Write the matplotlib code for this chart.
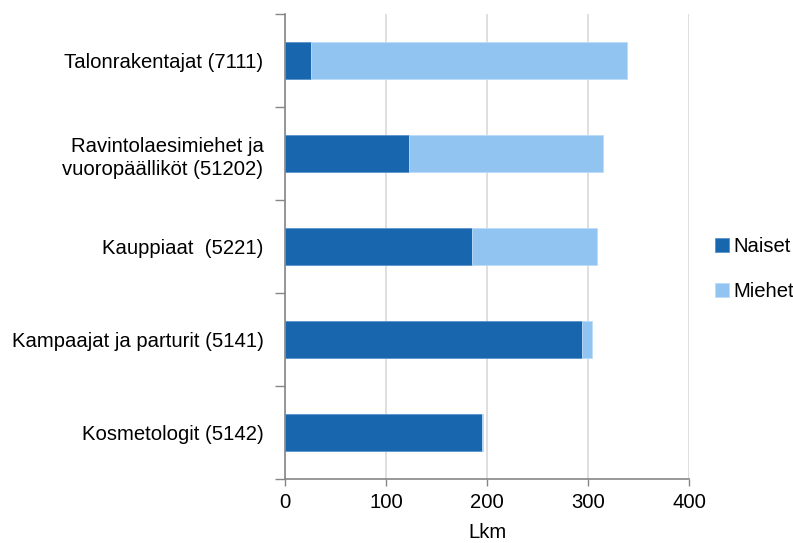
import matplotlib
matplotlib.use("Agg")
import matplotlib.pyplot as plt
import numpy as np

categories = ["Talonrakentajat (7111)", "Ravintolaesimiehet ja\nvuoropäälliköt (51202)",
              "Kauppiaat  (5221)", "Kampaajat ja parturit (5141)", "Kosmetologit (5142)"]
naiset = [26, 123, 185, 294, 195]
miehet = [313, 192, 124, 10, 1]
series_names = ["Naiset", "Miehet"]
xticks = [0, 100, 200, 300, 400]

FS = 14.6
plt.rcParams['font.family'] = ['Liberation Sans', 'DejaVu Sans']
fig = plt.figure(figsize=(7.93, 5.43), dpi=100)
ax = fig.add_axes([285/793, 1-479/543, 404/793, 465/543])

y = np.arange(len(categories))[::-1]
c1, c2 = "#1766AE", "#92C4F2"
b1 = ax.barh(y, naiset, height=0.4, color=c1, edgecolor="#5b95cc", linewidth=0.6, label=series_names[0], zorder=3)
b2 = ax.barh(y, miehet, left=naiset, height=0.4, color=c2, edgecolor="#bcdcf8", linewidth=0.6, label=series_names[1], zorder=3)

ax.set_xlim(0, 400)
ax.set_ylim(-0.5, len(categories)-0.5)
ax.set_xticks(xticks)
ax.set_xticklabels([str(t) for t in xticks], fontsize=FS)
ax.set_yticks(y)
ax.set_yticklabels(categories, fontsize=FS, linespacing=1.3)
ax.tick_params(axis='y', which='major', length=0, pad=15.5)
ax.set_yticks(np.arange(-0.5, len(categories), 1), minor=True)
ax.tick_params(axis='y', which='minor', length=7, color="#868686", width=1)
ax.tick_params(axis='x', length=5, color="#868686", width=1, pad=5)
ax.grid(axis='x', color="#D9D9D9", linewidth=1.2, zorder=0)
for s in ["top", "right"]:
    ax.spines[s].set_visible(False)
for s in ["left", "bottom"]:
    ax.spines[s].set_color("#868686")
    ax.spines[s].set_linewidth(1.2)
ax.set_xlabel("Lkm", fontsize=FS, labelpad=8)

fig.legend(handles=[b1, b2], labels=series_names, loc="center left",
           bbox_to_anchor=(711/793, 1-269/543), frameon=False, fontsize=FS,
           handlelength=0.7, handleheight=0.7, handletextpad=0.2, labelspacing=1.3,
           borderaxespad=0, borderpad=0.2)

fig.savefig("out.png", dpi=100)
